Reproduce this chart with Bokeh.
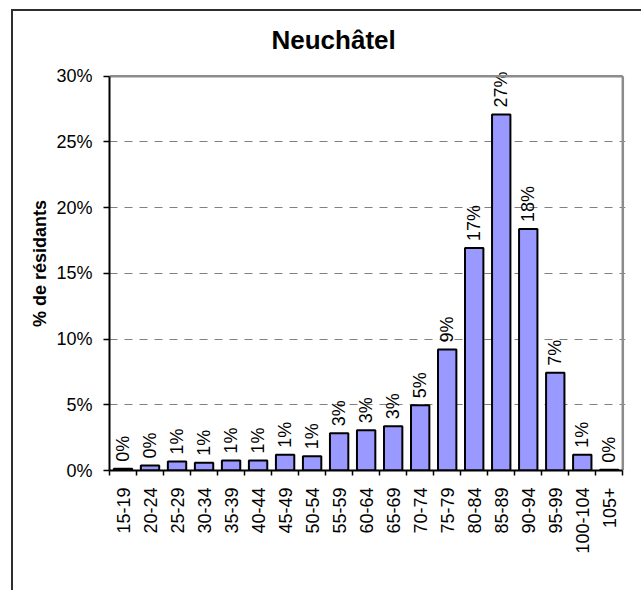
import math
from bokeh.plotting import figure
from bokeh.models import ColumnDataSource, FixedTicker, PrintfTickFormatter, Range1d
from bokeh.core.properties import value
from bokeh.embed import file_html
from bokeh.resources import INLINE

# ---- data -------------------------------------------------------------
categories = ["15-19", "20-24", "25-29", "30-34", "35-39", "40-44", "45-49",
              "50-54", "55-59", "60-64", "65-69", "70-74", "75-79", "80-84",
              "85-89", "90-94", "95-99", "100-104", "105+"]
shares = [0.13, 0.38, 0.69, 0.59, 0.76, 0.76, 1.19, 1.09, 2.84, 3.07, 3.37,
          4.97, 9.21, 16.93, 27.09, 18.38, 7.44, 1.19, 0.05]
bar_labels = ["0%", "0%", "1%", "1%", "1%", "1%", "1%", "1%", "3%", "3%", "3%",
              "5%", "9%", "17%", "27%", "18%", "7%", "1%", "0%"]
y_ticks = [0, 5, 10, 15, 20, 25, 30]
grid_ticks = [5, 10, 15, 20, 25]
title_text = "Neuchâtel"
y_title = "% de résidants"

FONT = "Liberation Sans"
n = len(categories)
xs = [i + 0.5 for i in range(n)]
y_max = y_ticks[-1]

source = ColumnDataSource(dict(x=xs, top=shares, label=bar_labels))

p = figure(width=630, height=581,
           x_range=Range1d(0, n + 0.1), y_range=Range1d(0, 31.5),
           output_backend="svg", toolbar_location=None,
           min_border_left=96, min_border_right=18,
           min_border_top=45, min_border_bottom=122,
           title=title_text)
p.margin = (9, 0, 0, 11)
p.styles = {"border-top": "2px solid #2e2e2e", "border-left": "2px solid #2e2e2e"}
p.outline_line_color = None
p.background_fill_color = "white"
p.border_fill_color = "white"

# title
p.title.text_font = FONT
p.title.text_font_size = "26px"
p.title.text_font_style = "bold"
p.title.text_color = "black"
p.title.align = "left"
p.title.offset = 162
p.title.standoff = 3

# grid
p.xgrid.visible = False
p.ygrid.ticker = FixedTicker(ticks=grid_ticks)
p.ygrid.grid_line_color = "#808080"
p.ygrid.grid_line_dash = "8 7"
p.ygrid.grid_line_width = 1
p.ygrid.bounds = (0, n)

# bars
p.vbar(x="x", top="top", bottom=0, width=0.68, source=source,
       fill_color="#9999FF", line_color="black", line_width=2)

# labels above bars
p.text(x="x", y="top", text="label", source=source, angle=math.pi / 2,
       text_align="left", text_baseline="middle", y_offset=-7,
       text_font=value(FONT), text_font_size="18px", text_color="black")

# plot-area border (top / right) in grey
p.segment(x0=[0, n], y0=[y_max, 0], x1=[n, n], y1=[y_max, y_max],
          line_color="#8c8c8c", line_width=2.5)

# x axis
p.xaxis.ticker = FixedTicker(ticks=xs, minor_ticks=list(range(n + 1)))
p.xaxis.major_label_overrides = {x: c for x, c in zip(xs, categories)}
p.xaxis.major_label_orientation = math.pi / 2
p.xaxis.major_tick_out = 0
p.xaxis.major_tick_in = 0
p.xaxis.major_tick_line_color = None
p.xaxis.minor_tick_out = 5
p.xaxis.minor_tick_in = 0
p.xaxis.minor_tick_line_color = "black"
p.xaxis.minor_tick_line_width = 1.5
p.xaxis.axis_line_color = "black"
p.xaxis.axis_line_width = 2
p.xaxis.bounds = (0, n)
p.xaxis.major_label_standoff = 12
p.xaxis.major_label_text_font = FONT
p.xaxis.major_label_text_font_size = "18px"
p.xaxis.major_label_text_color = "black"

# y axis
p.yaxis.ticker = FixedTicker(ticks=y_ticks)
p.yaxis.formatter = PrintfTickFormatter(format="%d%%")
p.yaxis.bounds = (0, y_max)
p.yaxis.major_tick_out = 6
p.yaxis.major_tick_in = 0
p.yaxis.major_tick_line_color = "black"
p.yaxis.major_tick_line_width = 1.5
p.yaxis.minor_tick_line_color = None
p.yaxis.axis_line_color = "black"
p.yaxis.axis_line_width = 2
p.yaxis.major_label_standoff = 11
p.yaxis.major_label_text_font = FONT
p.yaxis.major_label_text_font_size = "18px"
p.yaxis.major_label_text_color = "black"
p.yaxis.axis_label = y_title
p.yaxis.axis_label_text_font = FONT
p.yaxis.axis_label_text_font_size = "18px"
p.yaxis.axis_label_text_font_style = "bold"
p.yaxis.axis_label_text_color = "black"
p.yaxis.axis_label_standoff = 3

open("out.html", "w").write(file_html(p, INLINE))
